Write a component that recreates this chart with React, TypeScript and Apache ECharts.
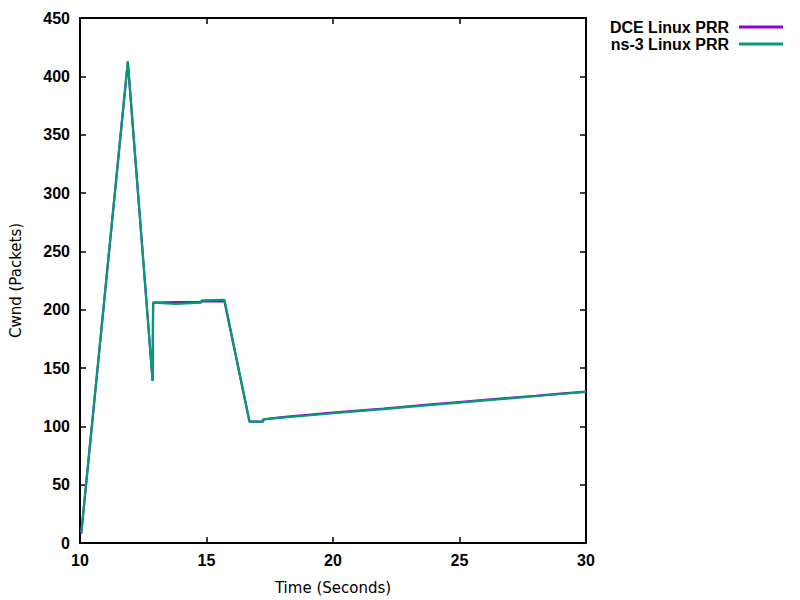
import React, { useEffect, useRef } from 'react';
import * as echarts from 'echarts';

// Time (s) and congestion window (packets)
const dceTime = [10.05, 11.89, 12.87, 12.89, 13.8, 14.79, 14.81, 15.71, 16.7, 17.23, 17.25, 18, 19, 20, 21, 22, 23, 24, 25, 26, 27, 28, 29, 30];
const dceCwnd = [8, 412, 139, 206, 206.5, 206.5, 207, 207, 104, 104, 106, 108, 109.8, 111.7, 113.5, 115.3, 117.2, 119, 120.8, 122.6, 124.5, 126.2, 128, 129.8];

const ns3Time = [10.05, 11.89, 12.87, 12.89, 13.8, 14.79, 14.81, 15.71, 16.7, 17.23, 17.25, 18, 19, 20, 21, 22, 23, 24, 25, 26, 27, 28, 29, 30];
const ns3Cwnd = [9, 413, 139, 206, 205, 206, 208, 208.5, 104, 104, 106, 107.5, 109.3, 111.2, 113, 114.8, 116.7, 118.5, 120.3, 122.2, 124, 125.8, 127.7, 129.5];

const seriesNames = ['DCE Linux PRR', 'ns-3 Linux PRR'];
const seriesColors = ['#9400d3', '#009e73'];

const App: React.FC = () => {
  const chartRef = useRef<HTMLDivElement>(null);

  useEffect(() => {
    if (!chartRef.current) return;
    document.body.style.margin = '0';
    const chart = echarts.init(chartRef.current, undefined, { renderer: 'svg' });

    const tickFont = {
      fontFamily: 'Liberation Sans',
      fontWeight: 'bold' as const,
      fontSize: 16,
      color: '#000'
    };
    const axisLine = { show: true, onZero: false, lineStyle: { color: '#000', width: 2 } };
    const axisTick = { show: true, inside: true, length: 6, lineStyle: { color: '#000', width: 1.5 } };

    const legendBase = {
      orient: 'vertical' as const,
      right: 17,
      align: 'right' as const,
      padding: 0,
      icon: 'rect',
      itemWidth: 44,
      itemHeight: 3,
      textStyle: { ...tickFont, padding: [0, 5, 0, 0] }
    };

    const option: any = {
      animation: false,
      backgroundColor: '#fff',
      grid: { left: 76, right: 214, top: 18, bottom: 54, containLabel: false },
      legend: [
        { ...legendBase, top: 19, data: [seriesNames[0]] },
        { ...legendBase, top: 36, data: [seriesNames[1]] }
      ],
      xAxis: [
        {
          type: 'value',
          min: 10,
          max: 30,
          interval: 5,
          name: 'Time (Seconds)',
          nameLocation: 'middle',
          nameGap: 37,
          nameTextStyle: { fontFamily: 'DejaVu Sans', fontSize: 15, color: '#000' },
          axisLine,
          axisTick,
          axisLabel: { ...tickFont, margin: 9 },
          splitLine: { show: false }
        },
        {
          type: 'value',
          position: 'top',
          min: 10,
          max: 30,
          interval: 5,
          axisLine,
          axisTick,
          axisLabel: { show: false },
          splitLine: { show: false }
        }
      ],
      yAxis: [
        {
          type: 'value',
          min: 0,
          max: 450,
          interval: 50,
          name: 'Cwnd (Packets)',
          nameLocation: 'middle',
          nameGap: 57,
          nameTextStyle: { fontFamily: 'DejaVu Sans', fontSize: 15, color: '#000' },
          axisLine,
          axisTick,
          axisLabel: { ...tickFont, margin: 10 },
          splitLine: { show: false }
        },
        {
          type: 'value',
          position: 'right',
          min: 0,
          max: 450,
          interval: 50,
          axisLine,
          axisTick,
          axisLabel: { show: false },
          splitLine: { show: false }
        }
      ],
      series: [
        {
          name: seriesNames[0],
          type: 'line',
          symbol: 'none',
          color: seriesColors[0],
          lineStyle: { width: 2.2, color: seriesColors[0] },
          data: dceTime.map((t, i) => [t, dceCwnd[i]])
        },
        {
          name: seriesNames[1],
          type: 'line',
          symbol: 'none',
          color: seriesColors[1],
          lineStyle: { width: 2.2, color: seriesColors[1] },
          data: ns3Time.map((t, i) => [t, ns3Cwnd[i]])
        }
      ]
    };

    chart.setOption(option);
    return () => chart.dispose();
  }, []);

  return <div ref={chartRef} style={{ width: 800, height: 600 }} />;
};

export default App;
